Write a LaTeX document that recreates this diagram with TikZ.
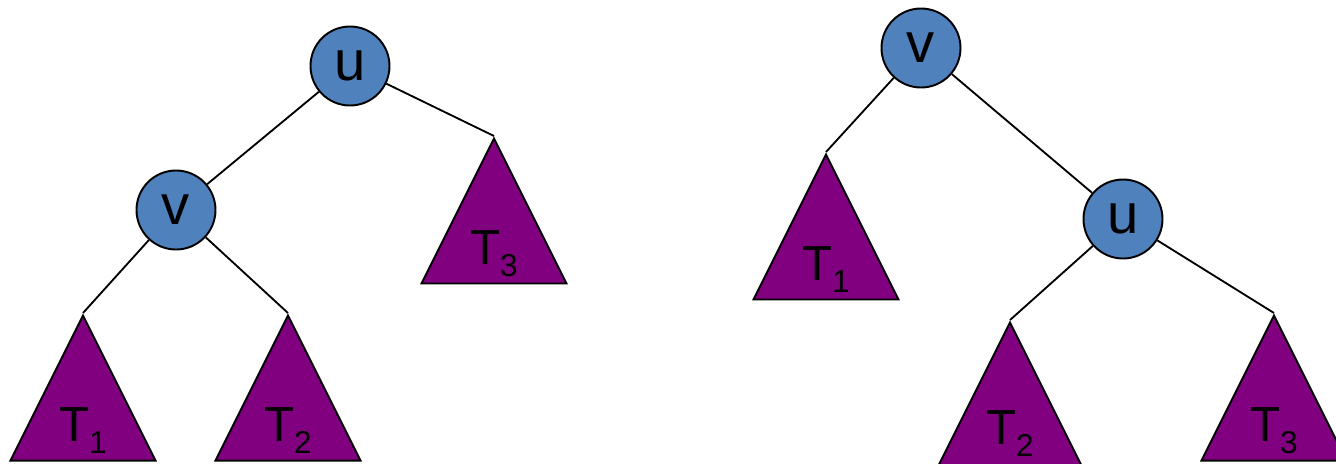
\documentclass[tikz,border=0pt]{standalone}
\usepackage{fontspec}
\setmainfont{Liberation Sans}
\usetikzlibrary{positioning, shapes.geometric}

\definecolor{nodeblue}{HTML}{4F81BD}
\definecolor{treepurple}{HTML}{800080}
\newcommand{\subidx}[1]{\raisebox{-6.8pt}{\fontsize{18}{20}\selectfont #1}}

\begin{document}
\begin{tikzpicture}[
			on grid,
			nd/.style={circle, draw, fill=nodeblue, line width=1.1pt, minimum size=1.58cm, inner sep=0pt, font=\fontsize{32}{36}\selectfont},
			tri/.style={isosceles triangle, isosceles triangle stretches, shape border rotate=90, draw, fill=treepurple, line width=1.1pt, minimum width=2.9cm, minimum height=2.9cm, inner sep=0pt},
			lbl/.style={anchor=base, inner sep=0pt, font=\fontsize{28}{32}\selectfont},
			edge/.style={line width=1.05pt}
			]
			\useasboundingbox (0,0) rectangle (26.72,-9.26);
			
			% Albero sinistro
			\node[nd] (u1) at (7.00,-1.32) {u};
			\node[nd] (v1) [below left=2.88cm and 3.48cm of u1] {v};
			\node[tri] (t3a) [below right=1.40cm and 2.88cm of u1, anchor=apex] {};
			\node[tri] (t1a) [below left=2.06cm and 1.86cm of v1, anchor=apex] {};
			\node[tri] (t2a) [below right=2.06cm and 2.24cm of v1, anchor=apex] {};
			\node[lbl] (l1a) at ([yshift=0.4cm]t1a.lower side) {T\subidx{1}};
			\node[lbl] (l2a) at ([yshift=0.4cm]t2a.lower side) {T\subidx{2}};
			\node[lbl] (l3a) at ([yshift=0.4cm]t3a.lower side) {T\subidx{3}};
			\draw[edge] (u1) -- (v1);
			\draw[edge] (u1) -- (t3a.apex);
			\draw[edge] (v1) -- (t1a.apex);
			\draw[edge] (v1) -- (t2a.apex);
			
			% Albero destro (dopo la rotazione)
			\node[nd] (v2) at (18.42,-0.96) {v};
			\node[nd] (u2) [below right=3.42cm and 4.04cm of v2] {u};
			\node[tri] (t1b) [below left=2.08cm and 1.90cm of v2, anchor=apex] {};
			\node[tri] (t2b) [below left=2.02cm and 2.26cm of u2, anchor=apex] {};
			\node[tri] (t3b) [below right=1.88cm and 3.02cm of u2, anchor=apex] {};
			\node[lbl] (l1b) at ([yshift=0.4cm]t1b.lower side) {T\subidx{1}};
			\node[lbl] (l2b) at ([yshift=0.48cm]t2b.lower side) {T\subidx{2}};
			\node[lbl] (l3b) at ([yshift=0.4cm]t3b.lower side) {T\subidx{3}};
			\draw[edge] (v2) -- (u2);
			\draw[edge] (v2) -- (t1b.apex);
			\draw[edge] (u2) -- (t2b.apex);
			\draw[edge] (u2) -- (t3b.apex);
			
		\end{tikzpicture}
\end{document}
